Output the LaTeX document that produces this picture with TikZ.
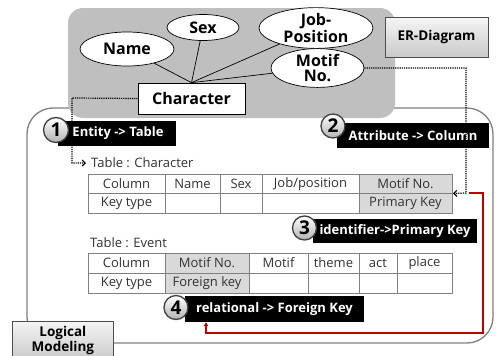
\documentclass[tikz,border=0pt]{standalone}
\usepackage{fontspec}
\setmainfont{Open Sans}
\usetikzlibrary{shapes.geometric,arrows.meta}
\definecolor{ergray}{RGB}{191,191,191}
\definecolor{cellgray}{RGB}{217,217,217}
\definecolor{linegray}{RGB}{128,128,128}
\definecolor{redline}{RGB}{192,0,0}
\definecolor{txtgray}{RGB}{50,50,50}
\begin{document}
\begin{tikzpicture}[x=1pt,y=-1pt,
  ent/.style={ellipse,draw=black,line width=0.7pt,fill=white,inner sep=0pt,align=center,
    font=\bfseries\fontsize{16}{15}\selectfont},
  entbox/.style={rectangle,draw=black,line width=0.7pt,fill=white,inner sep=0pt,
    font=\bfseries\fontsize{16}{18}\selectfont},
  titlebox/.style={rectangle,draw=black!70,line width=0.8pt,top color=gray!8,bottom color=gray!42,
    inner sep=0pt,align=center,font=\bfseries\fontsize{13.5}{15}\selectfont},
  cell/.style={rectangle,draw=linegray,line width=0.8pt,inner sep=0pt,outer sep=0pt,anchor=north west,
    text=txtgray,font=\fontsize{13}{15}\selectfont},
  key/.style={cell,fill=cellgray},
  lab/.style={rectangle,fill=black,text=white,inner sep=0pt,font=\bfseries\fontsize{13}{15}\selectfont},
  badge/.style={circle,minimum size=25pt,inner sep=0pt,top color=white,bottom color=gray!60,
    draw=black!75,line width=1.3pt,font=\bfseries\fontsize{19}{19}\selectfont},
  dotline/.style={densely dotted,line width=1.2pt},
  tlabel/.style={anchor=west,inner sep=0pt,text=txtgray,font=\fontsize{13}{15}\selectfont}
]
\useasboundingbox (0,0) rectangle (496,356);
\fill[white] (0,0) rectangle (496,356);

% logical modeling panel
\draw[linegray,line width=1.3pt,fill=white,rounded corners=26pt] (27,108) rectangle (493,343);

% ER diagram area
\fill[ergray,rounded corners=15pt] (68,8) rectangle (395,118);
\node[titlebox,minimum width=103pt,minimum height=40pt] (er) at (436.5,37) {ER-Diagram};

\node[ent,minimum width=94pt,minimum height=34pt] (name) at (127,49) {Name};
\node[ent,minimum width=72pt,minimum height=26pt] (sex) at (203,27.5) {Sex};
\node[ent,minimum width=114pt,minimum height=27pt] (job) at (316,28) {Job-\\Position};
\node[ent,minimum width=93pt,minimum height=30pt] (motif) at (317.5,68) {Motif\\No.};
\node[entbox,minimum width=107pt,minimum height=31pt] (char) at (191.5,98.5) {Character};

\draw[line width=0.7pt] (char.north) -- (name);
\draw[line width=0.7pt] (char.north) -- (sex);
\draw[line width=0.7pt] (char.north) -- (job);
\draw[line width=0.7pt] (char.north) -- (motif);

% table : character
\node[tlabel] (tch) at (91,163) {Table : Character};
\node[cell,minimum width=77pt,minimum height=19.5pt] (c1) at (88,174) {Column};
\node[cell,minimum width=55pt,minimum height=19.5pt] (c2) at (165,174) {Name};
\node[cell,minimum width=42pt,minimum height=19.5pt] (c3) at (220,174) {Sex};
\node[cell,minimum width=97pt,minimum height=19.5pt] (c4) at (262,174) {Job/position};
\node[key,minimum width=93pt,minimum height=19.5pt] (c5) at (359,174) {Motif No.};
\node[cell,minimum width=77pt,minimum height=19.5pt] (k1) at (88,193.5) {Key type};
\node[cell,minimum width=55pt,minimum height=19.5pt] (k2) at (165,193.5) {};
\node[cell,minimum width=42pt,minimum height=19.5pt] (k3) at (220,193.5) {};
\node[cell,minimum width=97pt,minimum height=19.5pt] (k4) at (262,193.5) {};
\node[key,minimum width=93pt,minimum height=19.5pt] (k5) at (359,193.5) {Primary Key};

% table : event
\node[tlabel] (tev) at (90,243) {Table : Event};
\node[cell,minimum width=77pt,minimum height=20pt] (e1) at (88,253) {Column};
\node[key,minimum width=84pt,minimum height=20pt] (e2) at (165,253) {Motif No.};
\node[cell,minimum width=59pt,minimum height=20pt] (e3) at (249,253) {Motif};
\node[cell,minimum width=51pt,minimum height=20pt] (e4) at (308,253) {theme};
\node[cell,minimum width=38pt,minimum height=20pt] (e5) at (359,253) {act};
\node[cell,minimum width=55pt,minimum height=20pt] (e6) at (397,253) {place};
\node[cell,minimum width=77pt,minimum height=20pt] (f1) at (88,273) {Key type};
\node[key,minimum width=84pt,minimum height=20pt] (f2) at (165,273) {Foreign key};
\node[cell,minimum width=59pt,minimum height=20pt] (f3) at (249,273) {};
\node[cell,minimum width=51pt,minimum height=20pt] (f4) at (308,273) {};
\node[cell,minimum width=38pt,minimum height=20pt] (f5) at (359,273) {};
\node[cell,minimum width=55pt,minimum height=20pt] (f6) at (397,273) {};

% step labels
\node[lab,minimum width=118pt,minimum height=25pt] (lab1) at (116.5,133.5) {\hspace*{3pt}Entity -> Table};
\node[lab,minimum width=152pt,minimum height=25pt] (lab2) at (413,135.5) {Attribute -> Column};
\node[lab,minimum width=164pt,minimum height=24pt] (lab3) at (395,231) {identifier->Primary Key};
\node[lab,minimum width=179pt,minimum height=26pt] (lab4) at (274.5,309) {relational -> Foreign Key};

\node[badge] (b1) at (56,130) {1};
\node[badge,minimum size=24pt] (b2) at (333,126) {2};
\node[badge,minimum size=24pt] (b3) at (304.5,228) {3};
\node[badge,minimum size=24pt] (b4) at (176,307.5) {4};

% dotted connectors
\coordinate (d1a) at (72,98);
\coordinate (d1b) at (72,163);
\draw[dotline,-{Straight Barb[length=3pt,width=6pt]}] (char.west) -- (d1a) -- (d1b) -- ([xshift=-5pt]tch.west);
\coordinate (d2a) at (466,68);
\coordinate (d2b) at (466,193);
\draw[dotline,-{Straight Barb[length=3pt,width=6pt]}] (motif.east) -- (d2a) -- (d2b) -- ([xshift=1pt]k5.north east);

% red relation connector
\coordinate (r0) at (469,193);
\coordinate (r1) at (483,193);
\coordinate (r2) at (483,333);
\coordinate (r3) at (206,333);
\draw[redline,line width=1.3pt,-{Triangle[length=4pt,width=4.5pt]}] (r0) -- (r1) -- (r2) -- (r3) -- (r3 |- lab4.south);

% logical modeling title
\node[titlebox,minimum width=101pt,minimum height=38pt,anchor=north west] (lm) at (12,321) {Logical\\Modeling};
\end{tikzpicture}
\end{document}
